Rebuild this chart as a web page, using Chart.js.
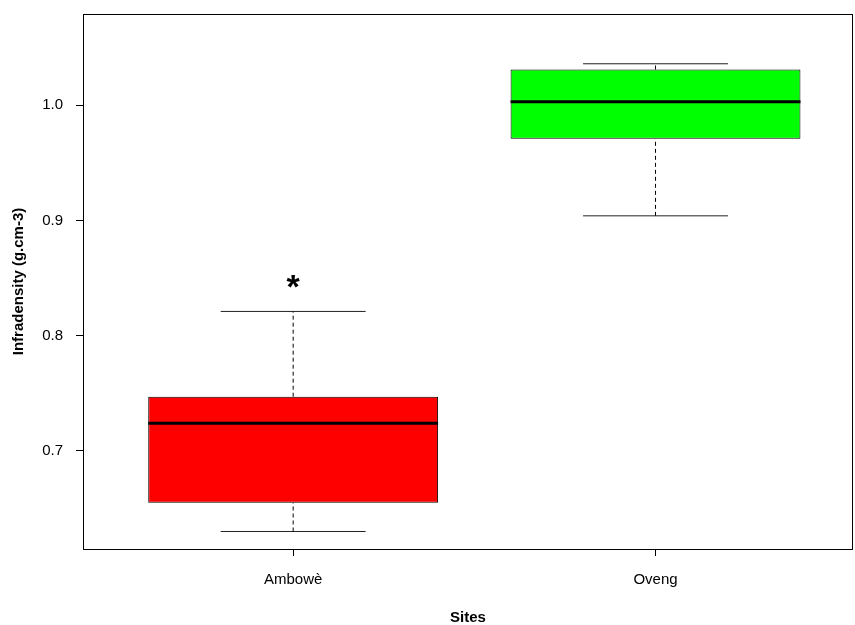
<!DOCTYPE html>
<html>
<head>
<meta charset="utf-8">
<script src="https://cdn.jsdelivr.net/npm/chart.js@4.4.1/dist/chart.umd.min.js"></script>
<style>
  body { margin: 0; background: #fff; }
  canvas { display: block; }
</style>
</head>
<body>
<canvas id="boxChart" width="855" height="625"></canvas>
<script>
// box plot values (g.cm-3)
const sites = ['Ambowè', 'Oveng'];
const sitePos = [1, 2];
const whiskerLow = [0.630, 0.904];
const q1 = [0.655, 0.971];
const median = [0.724, 1.003];
const q3 = [0.747, 1.031];
const whiskerHigh = [0.821, 1.036];
const boxColors = ['#ff0000', '#00ff00'];
const yTicks = [0.7, 0.8, 0.9, 1.0];
// significance mark above the first box
const starSite = [1];
const starValue = [0.841];

const FONT = 'Liberation Sans, Arial, sans-serif';

const datasets = [];

datasets.push({
    type: 'bar',
    order: 3,
    data: sitePos.map((x, i) => ({x: x, y: [q1[i], q3[i]]})),
    backgroundColor: boxColors,
    borderColor: '#000',
    borderWidth: 1,
    borderSkipped: false,
    barPercentage: 0.8,
    categoryPercentage: 1
});

sitePos.forEach((x, i) => {
    // dashed whiskers
    datasets.push({
        type: 'line', order: 2,
        data: [{x: x, y: q3[i]}, {x: x, y: whiskerHigh[i]}],
        borderColor: '#000', borderWidth: 1, borderDash: [4, 3],
        pointRadius: 0, fill: false
    });
    datasets.push({
        type: 'line', order: 2,
        data: [{x: x, y: whiskerLow[i]}, {x: x, y: q1[i]}],
        borderColor: '#000', borderWidth: 1, borderDash: [4, 3],
        pointRadius: 0, fill: false
    });
    // whisker caps
    datasets.push({
        type: 'line', order: 2,
        data: [{x: x - 0.2, y: whiskerHigh[i]}, {x: x + 0.2, y: whiskerHigh[i]}],
        borderColor: '#222', borderWidth: 1,
        pointRadius: 0, fill: false
    });
    datasets.push({
        type: 'line', order: 2,
        data: [{x: x - 0.2, y: whiskerLow[i]}, {x: x + 0.2, y: whiskerLow[i]}],
        borderColor: '#222', borderWidth: 1,
        pointRadius: 0, fill: false
    });
    // median
    datasets.push({
        type: 'line', order: 0,
        data: [{x: x - 0.4, y: median[i]}, {x: x + 0.4, y: median[i]}],
        borderColor: '#000', borderWidth: 3,
        pointRadius: 0, fill: false
    });
});

const framePlugin = {
    id: 'frame',
    afterDraw(chart) {
        const {ctx, chartArea: a, scales} = chart;
        ctx.save();
        ctx.strokeStyle = '#000';
        ctx.lineWidth = 1;
        ctx.strokeRect(Math.round(a.left) + 0.5, Math.round(a.top) + 0.5,
            Math.round(a.right - a.left) - 1, Math.round(a.bottom - a.top));
        ctx.fillStyle = '#000';
        ctx.font = 'bold 34px ' + FONT;
        ctx.textAlign = 'center';
        ctx.textBaseline = 'middle';
        starSite.forEach((s, i) => {
            ctx.fillText('*', scales.x.getPixelForValue(s), scales.y.getPixelForValue(starValue[i]));
        });
        ctx.restore();
    }
};

new Chart(document.getElementById('boxChart'), {
    type: 'bar',
    data: {datasets: datasets},
    options: {
        responsive: false,
        animation: false,
        layout: {padding: {top: 14, right: 2, left: 0, bottom: 0}},
        plugins: {legend: {display: false}, tooltip: {enabled: false}},
        scales: {
            x: {
                type: 'linear',
                min: 0.42,
                max: 2.545,
                offset: false,
                afterBuildTicks(scale) { scale.ticks = sitePos.map(v => ({value: v})); },
                afterFit(scale) {
                    scale.height = 76;
                    scale.paddingLeft = 0;
                    scale.paddingRight = 0;
                },
                grid: {display: true, offset: false, drawOnChartArea: false, drawTicks: true, tickLength: 7, color: '#000'},
                border: {display: false},
                ticks: {
                    color: '#000', padding: 15,
                    font: {family: FONT, size: 15},
                    callback: v => sites[sitePos.indexOf(v)]
                },
                title: {
                    display: true, text: 'Sites', color: '#000',
                    font: {family: FONT, size: 15, weight: 'bold', lineHeight: 1},
                    padding: 0
                }
            },
            y: {
                min: 0.6148,
                max: 1.0792,
                afterBuildTicks(scale) { scale.ticks = yTicks.map(v => ({value: v})); },
                afterFit(scale) {
                    scale.width = 83;
                    scale.paddingTop = 0;
                    scale.paddingBottom = 0;
                },
                grid: {display: true, drawOnChartArea: false, drawTicks: true, tickLength: 7, color: '#000'},
                border: {display: false},
                ticks: {
                    color: '#000', padding: 13,
                    font: {family: FONT, size: 15},
                    callback: v => v.toFixed(1)
                },
                title: {
                    display: true, text: 'Infradensity (g.cm-3)', color: '#000',
                    font: {family: FONT, size: 15, weight: 'bold', lineHeight: 1},
                    padding: {top: 11.5, bottom: 0}
                }
            }
        }
    },
    plugins: [framePlugin]
});
</script>
</body>
</html>
